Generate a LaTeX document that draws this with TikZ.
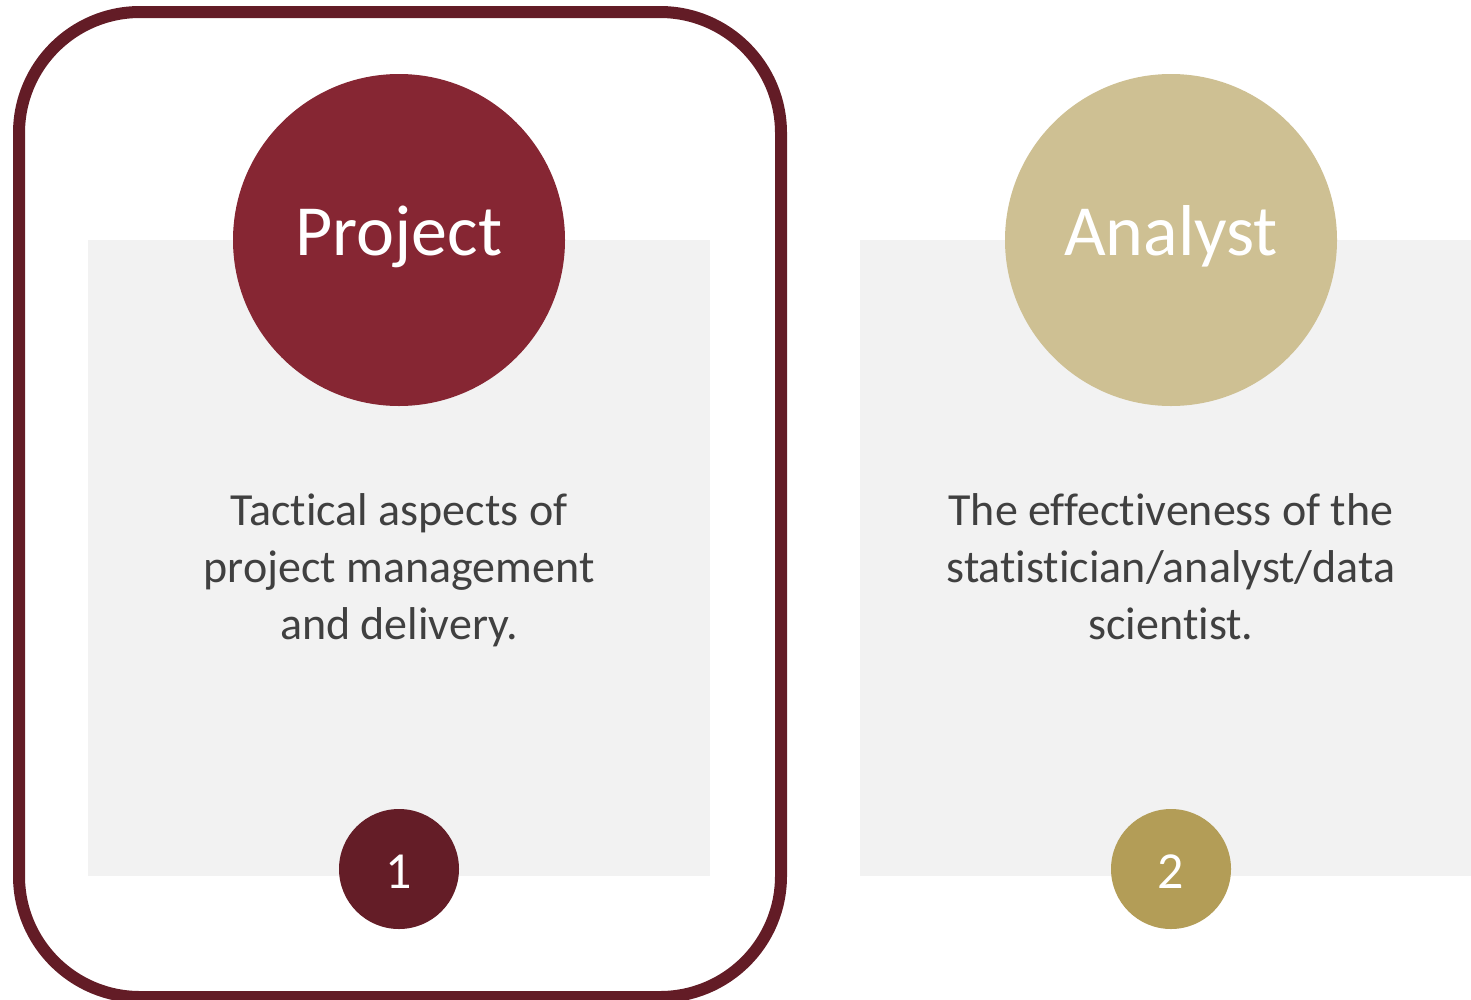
\documentclass[tikz,border=0pt]{standalone}
\usepackage{fontspec}
\setmainfont{Carlito}[Ligatures=NoCommon]
\definecolor{frameRed}{HTML}{631C26}
\definecolor{deepRed}{HTML}{862633}
\definecolor{darkRed}{HTML}{641D27}
\definecolor{sand}{HTML}{CEC093}
\definecolor{gold}{HTML}{B39D57}
\definecolor{panelGray}{HTML}{F2F2F2}
\definecolor{bodyText}{HTML}{404040}
\tikzset{
  panel/.style={fill=panelGray},
  bigdisc/.style={circle, minimum size=332pt, inner sep=0pt},
  smalldisc/.style={circle, minimum size=120pt, inner sep=0pt},
  titletext/.style={text=white, font=\fontsize{72}{86}\selectfont, anchor=base},
  numtext/.style={text=white, font=\fontsize{52}{62}\selectfont, anchor=base},
  bodytext/.style={text=bodyText, align=center, anchor=base,
    font=\fontsize{46}{57}\selectfont},
}
\begin{document}
\begin{tikzpicture}[x=1pt,y=-1pt]
\useasboundingbox (0,0) rectangle (1471,999);
\clip (0,0) rectangle (1471,999);

% grey panels behind each card
\fill[panel] (88,240) rectangle (710,876);
\fill[panel] (860,240) rectangle (1471,876);

% highlight frame around the first card
\draw[frameRed, line width=12pt, rounded corners=121pt] (19,12) rectangle (781,997);

% card 1 (base anchor of the body text sits on its last line)
\node[bigdisc, fill=deepRed] (projDisc) at (399,240) {};
\node[titletext] (projTitle) at (399,255) {Project};
\node[bodytext] (projBody) at (399,639) {Tactical aspects of\\project management\\and delivery.};
\node[smalldisc, fill=darkRed] (oneDisc) at (399,869) {};
\node[numtext] (oneNum) at (399,888) {1};

% card 2
\node[bigdisc, fill=sand] (anaDisc) at (1171,240) {};
\node[titletext] (anaTitle) at (1171,255) {Analyst};
\node[bodytext] (anaBody) at (1171,639) {The effectiveness of the\\statistician/analyst/data\\scientist.};
\node[smalldisc, fill=gold] (twoDisc) at (1171,869) {};
\node[numtext] (twoNum) at (1171,888) {2};
\end{tikzpicture}
\end{document}
